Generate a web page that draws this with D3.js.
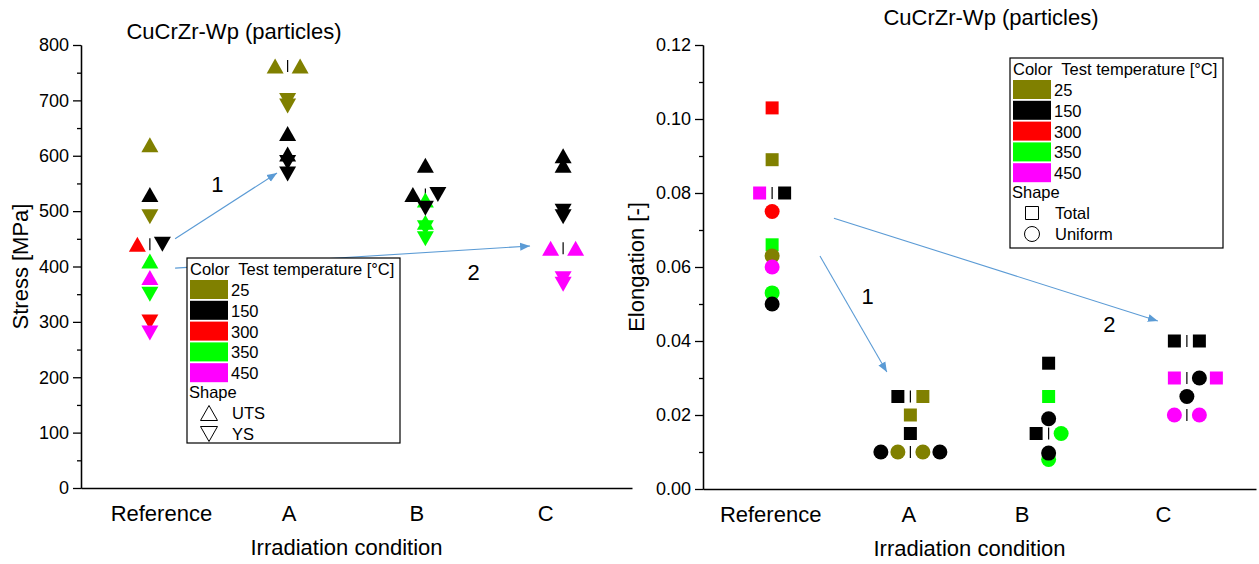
<!DOCTYPE html>
<html>
<head>
<meta charset="utf-8">
<script src="https://cdn.jsdelivr.net/npm/d3@7"></script>
<style>
  body { margin: 0; background: #fff; }
  svg { display: block; }
  text { font-family: "Liberation Sans", Arial, sans-serif; fill: #000; }
</style>
</head>
<body>
<svg id="chart" width="1259" height="564"></svg>
<script>
// ---- data -------------------------------------------------------------
const conditions = ["Reference", "A", "B", "C"];
const temperatures = [25, 150, 300, 350, 450];
const tempColors = ["#808000", "#000000", "#ff0000", "#00ff00", "#ff00ff"];

// Stress [MPa], one inner array per irradiation condition
const uts25  = [[620], [762, 762], [], []];
const uts150 = [[530], [640, 603], [583, 530], [600, 583]];
const uts300 = [[440], [], [], []];
const uts350 = [[410], [], [520, 480], []];
const uts450 = [[380], [], [], [433, 433]];
const ys25   = [[490], [700, 690], [], []];
const ys150  = [[440], [588, 567], [530, 505], [500, 490]];
const ys300  = [[300], [], [], []];
const ys350  = [[350], [], [470, 450], []];
const ys450  = [[280], [], [], [378, 368]];

// Elongation [-], one inner array per irradiation condition
const total25   = [[0.089], [0.025, 0.020], [], []];
const total150  = [[0.080], [0.025, 0.015], [0.034, 0.015], [0.040, 0.040]];
const total300  = [[0.103], [], [], []];
const total350  = [[0.066], [], [0.025], []];
const total450  = [[0.080], [], [], [0.030, 0.030]];
const uniform25  = [[0.063], [0.010, 0.010], [], []];
const uniform150 = [[0.050], [0.010, 0.010], [0.019, 0.0097], [0.030, 0.025]];
const uniform300 = [[0.075], [], [], []];
const uniform350 = [[0.053], [], [0.015, 0.008], []];
const uniform450 = [[0.060], [], [], [0.020, 0.020]];

const stressTicks = [0, 100, 200, 300, 400, 500, 600, 700, 800];
const elongTicks = [0, 0.02, 0.04, 0.06, 0.08, 0.10, 0.12];

// series in plotting order: [values, temperature, shape]
const stressSeries = [
  [uts25, 25, "up"], [uts150, 150, "up"], [uts300, 300, "up"], [uts350, 350, "up"], [uts450, 450, "up"],
  [ys25, 25, "down"], [ys150, 150, "down"], [ys300, 300, "down"], [ys350, 350, "down"], [ys450, 450, "down"]
];
const elongSeries = [
  [total450, 450, "square"], [total300, 300, "square"], [total150, 150, "square"],
  [total25, 25, "square"], [total350, 350, "square"],
  [uniform350, 350, "circle"], [uniform25, 25, "circle"], [uniform150, 150, "circle"],
  [uniform300, 300, "circle"], [uniform450, 450, "circle"]
];

// arrows between conditions: [x0, v0, x1, v1], labels: [text, x, v]
const stressArrows = [[1.183, 450, 1.923, 569], [1.183, 397, 3.76, 437]];
const stressArrowLabels = [["1", 1.49, 549], ["2", 3.35, 390]];
const elongArrows = [[1.346, 0.063, 1.83, 0.0316], [1.447, 0.0732, 3.79, 0.0454]];
const elongArrowLabels = [["1", 1.69, 0.0522], ["2", 3.44, 0.0446]];

// ---- drawing ------------------------------------------------------------
const svg = d3.select("#chart");
const color = d3.scaleOrdinal().domain(temperatures).range(tempColors);
const arrowBlue = "#5b9bd5";

svg.append("defs").append("marker")
  .attr("id", "arrowhead")
  .attr("viewBox", "0 0 10 10")
  .attr("refX", 10).attr("refY", 5)
  .attr("markerWidth", 10).attr("markerHeight", 10)
  .attr("markerUnits", "userSpaceOnUse")
  .attr("orient", "auto")
  .append("path").attr("d", "M0,1 L10,5 L0,9 Z").attr("fill", arrowBlue);

const shapePath = {
  up: "M0,-7.5 L8.5,7.5 L-8.5,7.5 Z",
  down: "M0,7.5 L8.5,-7.5 L-8.5,-7.5 Z",
  square: "M-6.5,-6.5 H6.5 V6.5 H-6.5 Z",
  circle: d3.symbol(d3.symbolCircle, Math.PI * 7.5 * 7.5)()
};

// horizontal spread of coinciding points
const dodgeSlots = { 1: [0], 2: [-12.5, 12.5], 3: [-12.5, 29.5, 12.5], 4: [-12.5, 12.5, 29.5, -29.5] };

function drawPanel(cfg) {
  const g = svg.append("g");
  const x = d3.scaleLinear().domain([0.5, 4.5]).range([cfg.left, cfg.right]);
  const y = d3.scaleLinear().domain([cfg.ticks[0], cfg.ticks[cfg.ticks.length - 1]])
    .range([cfg.bottom, cfg.top]);

  // minor ticks halfway between major ticks
  const minor = d3.pairs(cfg.ticks).map(([a, b]) => (a + b) / 2);
  const yMinor = g.append("g").attr("transform", `translate(${cfg.left},0)`)
    .call(d3.axisLeft(y).tickValues(minor).tickSize(4).tickSizeOuter(0).tickFormat(""));
  const yAxis = g.append("g").attr("transform", `translate(${cfg.left},0)`)
    .call(d3.axisLeft(y).tickValues(cfg.ticks).tickSize(8).tickSizeOuter(0)
      .tickPadding(4).tickFormat(cfg.fmt));
  yAxis.selectAll("text").attr("font-size", 18).attr("font-family", null).attr("fill", "#000");
  [yMinor, yAxis].forEach(a => a.selectAll("line,path").attr("stroke", "#000").attr("stroke-width", 1.3));

  // category axis
  const xAxis = g.append("g").attr("transform", `translate(0,${cfg.bottom})`)
    .call(d3.axisBottom(x).tickValues([1, 2, 3, 4]).tickSize(0).tickSizeOuter(0)
      .tickPadding(17).tickFormat(i => conditions[i - 1]));
  xAxis.select("path").attr("stroke", "#000").attr("stroke-width", 1.3);
  xAxis.selectAll("text").attr("font-size", 22).attr("font-family", null).attr("fill", "#000")
    .attr("dx", (d, i) => cfg.labelNudge[i]);

  // titles
  g.append("text").attr("x", cfg.titleX).attr("y", cfg.titleY).attr("text-anchor", "middle")
    .attr("font-size", 22).text("CuCrZr-Wp (particles)");
  g.append("text").attr("x", (cfg.left + cfg.right) / 2 + cfg.xTitleNudge).attr("y", cfg.bottom + 67)
    .attr("text-anchor", "middle").attr("font-size", 22).text("Irradiation condition");
  g.append("text")
    .attr("transform", `translate(${cfg.yTitleX},${(cfg.top + cfg.bottom) / 2}) rotate(-90)`)
    .attr("text-anchor", "middle").attr("font-size", 22).text(cfg.yTitle);

  // arrows
  g.selectAll(".arrow").data(cfg.arrows).join("line").attr("class", "arrow")
    .attr("x1", d => x(d[0])).attr("y1", d => y(d[1]))
    .attr("x2", d => x(d[2])).attr("y2", d => y(d[3]))
    .attr("stroke", arrowBlue).attr("stroke-width", 1.1).attr("marker-end", "url(#arrowhead)");
  g.selectAll(".alabel").data(cfg.arrowLabels).join("text").attr("class", "alabel")
    .attr("x", d => x(d[1])).attr("y", d => y(d[2])).attr("dy", "0.35em")
    .attr("text-anchor", "middle").attr("font-size", 22).text(d => d[0]);

  // flatten series to points
  const points = [];
  cfg.series.forEach(([vals, temp, shape]) => {
    vals.forEach((arr, ci) => arr.forEach(v => points.push({ ci, v, temp, shape })));
  });
  const groups = d3.group(points, p => p.ci + "|" + p.v);
  groups.forEach(arr => {
    const slots = dodgeSlots[arr.length];
    arr.forEach((p, k) => { p.dx = slots[k]; });
  });

  // dividers between spread points
  const multi = Array.from(groups.values()).filter(a => a.length > 1).map(a => a[0]);
  g.selectAll(".divider").data(multi).join("line").attr("class", "divider")
    .attr("x1", p => x(p.ci + 1)).attr("x2", p => x(p.ci + 1))
    .attr("y1", p => y(p.v) - 6).attr("y2", p => y(p.v) + 6)
    .attr("stroke", "#000").attr("stroke-width", 1.2);

  g.selectAll(".pt").data(points).join("path").attr("class", "pt")
    .attr("d", p => shapePath[p.shape])
    .attr("transform", p => `translate(${x(p.ci + 1) + p.dx},${y(p.v)})`)
    .attr("fill", p => color(p.temp));

  // legend
  const L = cfg.legend;
  const fs = 16.5;
  const lg = g.append("g");
  lg.append("rect").attr("x", L.x).attr("y", L.y).attr("width", L.w).attr("height", L.h)
    .attr("fill", "#fff").attr("stroke", "#000").attr("stroke-width", 1.2);
  lg.append("text").attr("x", L.x + 3).attr("y", L.y + 17).attr("font-size", fs)
    .attr("xml:space", "preserve").text("Color  Test temperature [°C]");
  temperatures.forEach((t, i) => {
    const ry = L.y + 22 + i * 20.8;
    lg.append("rect").attr("x", L.x + 3).attr("y", ry).attr("width", 38).attr("height", 19)
      .attr("fill", color(t));
    lg.append("text").attr("x", L.x + 44).attr("y", ry + 16).attr("font-size", fs).text(t);
  });
  lg.append("text").attr("x", L.x + 2).attr("y", L.y + 140).attr("font-size", fs).text("Shape");
  cfg.shapeKeys.forEach(([shape, label], i) => {
    const cy = L.y + 155 + i * 21;
    lg.append("path").attr("d", shapePath[shape]).attr("transform", `translate(${L.x + 22},${cy})`)
      .attr("fill", "none").attr("stroke", "#000").attr("stroke-width", 1);
    lg.append("text").attr("x", L.x + 45).attr("y", cy + 6).attr("font-size", fs).text(label);
  });
}

drawPanel({
  left: 81, right: 632, top: 45, bottom: 488,
  ticks: stressTicks, fmt: d3.format("d"),
  yTitle: "Stress [MPa]", yTitleX: 28,
  titleX: 234, titleY: 39, xTitleNudge: -10,
  labelNudge: [11, 1, -9, -18],
  series: stressSeries, arrows: stressArrows, arrowLabels: stressArrowLabels,
  legend: { x: 187, y: 258, w: 213, h: 185 },
  shapeKeys: [["up", "UTS"], ["down", "YS"]]
});

drawPanel({
  left: 703, right: 1256, top: 45, bottom: 489,
  ticks: elongTicks, fmt: d3.format(".2f"),
  yTitle: "Elongation [-]", yTitleX: 644,
  titleX: 991, titleY: 25, xTitleNudge: -10,
  labelNudge: [-2, -2, -27, -24],
  series: elongSeries, arrows: elongArrows, arrowLabels: elongArrowLabels,
  legend: { x: 1010, y: 58, w: 213, h: 190 },
  shapeKeys: [["square", "Total"], ["circle", "Uniform"]]
});
</script>
</body>
</html>
